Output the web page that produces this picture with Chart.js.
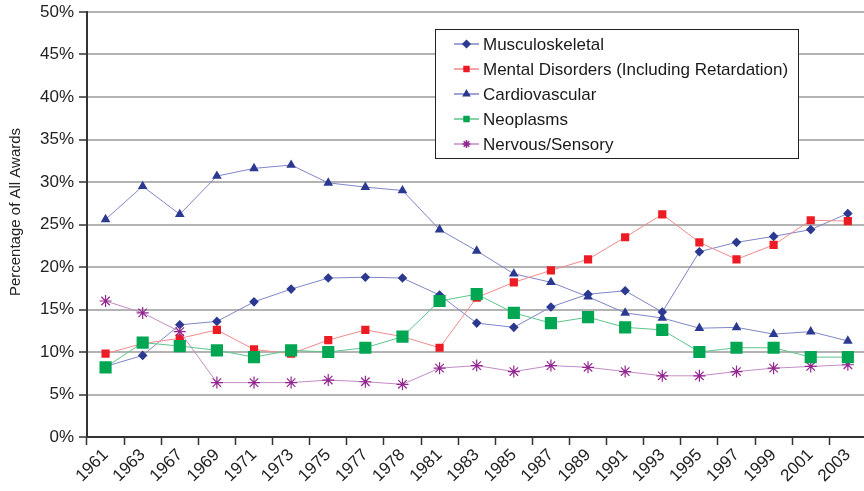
<!DOCTYPE html>
<html>
<head>
<meta charset="utf-8">
<script src="https://cdn.jsdelivr.net/npm/chart.js@4/dist/chart.umd.min.js"></script>
<style>
  html, body { margin: 0; padding: 0; background: #fff; overflow: hidden; }
  #wrap { position: relative; width: 875px; height: 491px; }
</style>
</head>
<body>
<div id="wrap"><canvas id="awardsChart"></canvas></div>
<script>
// Award years (uneven spacing as published)
const years = ['1961', '1963', '1967', '1969', '1971', '1973', '1975', '1977', '1978', '1981',
    '1983', '1985', '1987', '1989', '1991', '1993', '1995', '1997', '1999', '2001', '2003'];

// Share of all awards, in percent
const musculoskeletal = [8.3, 9.6, 13.2, 13.6, 15.9, 17.4, 18.7, 18.8, 18.7, 16.7,
    13.4, 12.9, 15.3, 16.8, 17.2, 14.7, 21.8, 22.9, 23.6, 24.4, 26.3];
const mentalDisorders = [9.8, 11.0, 11.6, 12.6, 10.3, 9.8, 11.4, 12.6, 11.8, 10.5,
    16.4, 18.2, 19.6, 20.9, 23.5, 26.2, 22.9, 20.9, 22.6, 25.5, 25.4];
const cardiovascular = [25.6, 29.5, 26.2, 30.7, 31.6, 32.0, 29.9, 29.4, 29.0, 24.4,
    21.9, 19.2, 18.2, 16.5, 14.6, 14.0, 12.8, 12.9, 12.1, 12.4, 11.3];
const neoplasms = [8.2, 11.1, 10.7, 10.2, 9.4, 10.2, 10.0, 10.5, 11.8, 16.0,
    16.8, 14.6, 13.4, 14.1, 12.9, 12.6, 10.0, 10.5, 10.5, 9.4, 9.4];
const nervousSensory = [16.0, 14.6, 12.4, 6.4, 6.4, 6.4, 6.7, 6.5, 6.2, 8.1,
    8.4, 7.7, 8.4, 8.2, 7.7, 7.2, 7.2, 7.7, 8.1, 8.3, 8.5];

const yTicks = [0, 5, 10, 15, 20, 25, 30, 35, 40, 45, 50];
const yTitle = 'Percentage of All Awards';

const FONT = '"Liberation Sans", Arial, Helvetica, sans-serif';

// Series styles: marker colour, thin line colour, marker shape and size
const series = [
    { label: 'Musculoskeletal', data: musculoskeletal, mark: '#2b3990', line: '#7e86c6', style: 'rectRot', r: 4.8, order: 3 },
    { label: 'Mental Disorders (Including Retardation)', data: mentalDisorders, mark: '#ed1c24', line: '#f08a8c', style: 'rect', r: 5.8, order: 2 },
    { label: 'Cardiovascular', data: cardiovascular, mark: '#2b3990', line: '#7e86c6', style: 'triangle', r: 5.6, order: 4 },
    { label: 'Neoplasms', data: neoplasms, mark: '#00a651', line: '#5cc58a', style: 'rect', r: 8.6, order: 0 },
    { label: 'Nervous/Sensory', data: nervousSensory, mark: '#92278f', line: '#c28cc4', style: 'star', r: 6, order: 1 }
];

// Boxed legend inside the plot area, plus the rotated y title
const boxLegend = {
    id: 'boxLegend',
    afterDatasetsDraw(chart) {
        const ctx = chart.ctx;
        const x0 = 435, y0 = 29, w = 363, h = 129;
        ctx.save();
        ctx.fillStyle = '#ffffff';
        ctx.fillRect(x0, y0, w, h);
        ctx.strokeStyle = '#222';
        ctx.lineWidth = 1;
        ctx.strokeRect(x0 + 0.5, y0 + 0.5, w, h);
        series.forEach((s, i) => {
            const y = y0 + 15 + i * 25;
            ctx.strokeStyle = s.line;
            ctx.lineWidth = 1.5;
            ctx.beginPath();
            ctx.moveTo(454, y);
            ctx.lineTo(479, y);
            ctx.stroke();
            ctx.fillStyle = s.mark;
            ctx.strokeStyle = s.mark;
            Chart.helpers.drawPoint(ctx, {
                pointStyle: s.style,
                radius: s.style === 'star' ? 4 : 3.5,
                rotation: 0,
                borderWidth: 1
            }, 466.5, y);
            ctx.fillStyle = '#1a1a1a';
            ctx.font = '17px ' + FONT;
            ctx.textBaseline = 'middle';
            ctx.textAlign = 'left';
            ctx.fillText(s.label, 483, y + 1);
        });

        ctx.translate(16, 212);
        ctx.rotate(-Math.PI / 2);
        ctx.fillStyle = '#222';
        ctx.font = '15px ' + FONT;
        ctx.textAlign = 'center';
        ctx.textBaseline = 'middle';
        ctx.fillText(yTitle, 0, 0);
        ctx.restore();
    }
};

new Chart(document.getElementById('awardsChart'), {
    type: 'line',
    data: {
        labels: years,
        datasets: series.map(s => ({
            label: s.label,
            data: s.data,
            order: s.order,
            borderColor: s.line,
            borderWidth: 1,
            tension: 0,
            pointStyle: s.style,
            pointRadius: s.r,
            pointBackgroundColor: s.mark,
            pointBorderColor: s.mark,
            pointBorderWidth: s.style === 'star' ? 1.2 : 0
        }))
    },
    options: {
        responsive: true,
        maintainAspectRatio: false,
        animation: false,
        events: [],
        layout: { padding: { left: 0, right: 0, top: 0, bottom: 0 } },
        plugins: {
            legend: { display: false },
            tooltip: { enabled: false }
        },
        scales: {
            x: {
                offset: true,
                grid: {
                    offset: true,
                    drawOnChartArea: false,
                    tickLength: 8,
                    tickColor: '#333',
                    tickWidth: 1.5
                },
                border: { color: '#333', width: 2 },
                ticks: {
                    color: '#222',
                    font: { family: FONT, size: 17 },
                    minRotation: 45,
                    maxRotation: 45,
                    padding: 0,
                    autoSkip: false
                },
                afterFit: (scale) => {
                    scale.height = 54;
                    scale.paddingRight = 0;
                }
            },
            y: {
                min: 0,
                max: 50,
                afterBuildTicks: (scale) => { scale.ticks = yTicks.map(v => ({ value: v })); },
                grid: {
                    color: '#b3b3b3',
                    lineWidth: 2,
                    tickLength: 8,
                    tickColor: '#333',
                    tickWidth: 1.5
                },
                border: { color: '#333', width: 2 },
                ticks: {
                    color: '#222',
                    font: { family: FONT, size: 17 },
                    padding: 5,
                    callback: v => v + '%'
                },
                afterFit: (scale) => {
                    scale.width = 87;
                    scale.paddingTop = 12;
                }
            }
        }
    },
    plugins: [boxLegend]
});
</script>
</body>
</html>
